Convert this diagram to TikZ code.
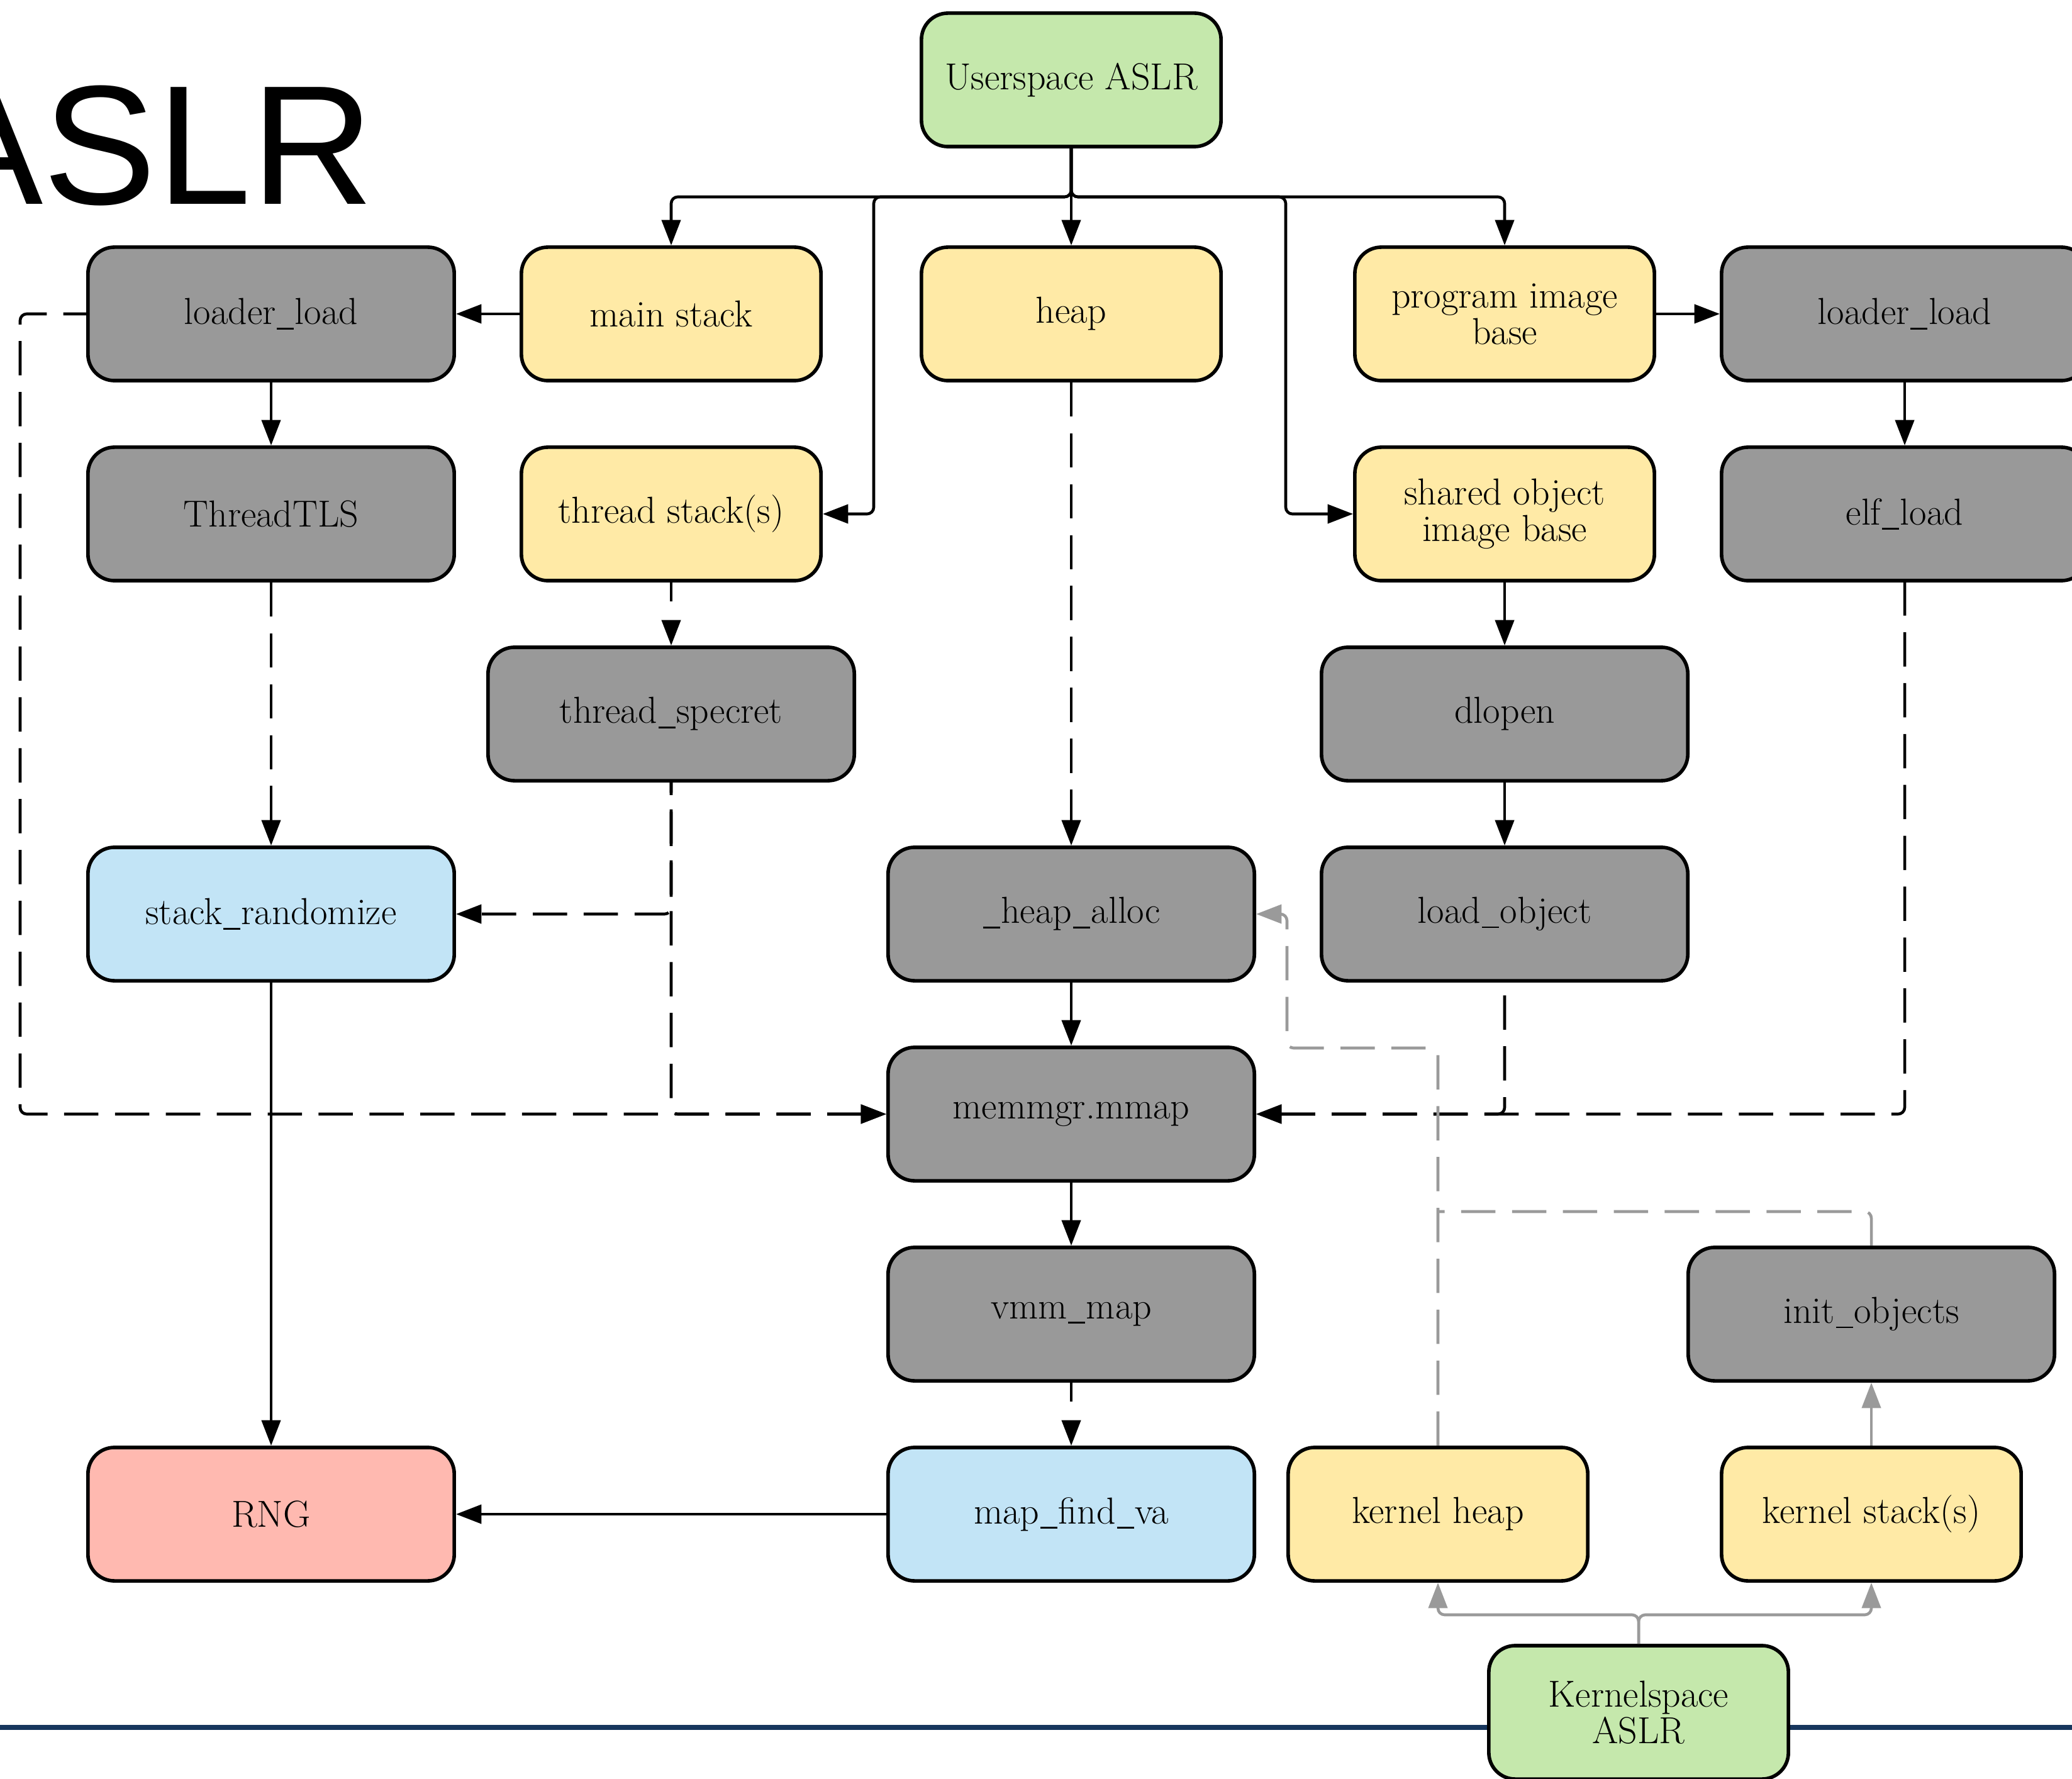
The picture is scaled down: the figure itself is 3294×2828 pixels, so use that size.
\documentclass[tikz,border=0pt]{standalone}
\usepackage{fontspec}
\newfontfamily\titlefont{Liberation Sans}
\usetikzlibrary{arrows.meta}
\definecolor{cgreen}{HTML}{C5E8AC}
\definecolor{cyellow}{HTML}{FFEAA6}
\definecolor{cgray}{HTML}{999999}
\definecolor{cblue}{HTML}{C2E4F6}
\definecolor{cred}{HTML}{FFB9B0}
\definecolor{cnavy}{HTML}{17365D}
\definecolor{cgline}{HTML}{9A9A9A}
\newcommand\us{\kern0.03em\rule[-0.13em]{0.45em}{0.045em}\kern0.03em}
\begin{document}
\begin{tikzpicture}[x=0.01cm,y=-0.01cm,
  box/.style={draw=black, line width=1.6pt, rounded corners=0.42cm, minimum height=2.12cm,
    inner sep=0pt, align=center, font=\fontsize{17}{16.5}\selectfont},
  wide/.style={minimum width=5.82cm},
  narrow/.style={minimum width=4.76cm},
  gbox/.style={box, wide, fill=cgray},
  ybox/.style={box, narrow, fill=cyellow},
  grbox/.style={box, narrow, fill=cgreen},
  bbox/.style={box, wide, fill=cblue},
  rbox/.style={box, wide, fill=cred},
  conn/.style={draw=black, line width=1.3pt, rounded corners=3pt},
  edge/.style={conn, -{Triangle[length=11.5pt,width=8.5pt]}},
  redge/.style={conn, {Triangle[length=11.5pt,width=8.5pt]}-},
  dsh/.style={dash pattern=on 15.5pt off 7.5pt},
  dshort/.style={dash pattern=on 8.5pt off 10.5pt},
  gedge/.style={edge, draw=cgline, -{Triangle[length=11.5pt,width=8.5pt,fill=cgline]}},
]
\useasboundingbox (0,0) rectangle (3294,2828);
\clip (0,0) rectangle (3294,2828);

% title
\node[font=\titlefont\fontsize{76.8}{80}\selectfont, anchor=base east, inner sep=0pt] (title) at (595,325) {ASLR};

% bottom rule
\coordinate (rl) at (0,2746);
\coordinate (rr) at (3294,2746);
\draw[cnavy, line width=2.3pt] (rl) -- (rr);

% nodes
\node[grbox] (ua) at (1703,127) {Userspace ASLR};
\node[gbox] (ll1) at (431,499) {loader\us load};
\node[ybox] (ms) at (1067,499) {main stack};
\node[ybox] (hp) at (1703,499) {heap};
\node[ybox] (pib) at (2392,499) {program image\\base};
\node[gbox] (ll2) at (3028,499) {loader\us load};
\node[gbox] (tls) at (431,817) {ThreadTLS};
\node[ybox] (ts) at (1067,817) {thread stack(s)};
\node[ybox] (so) at (2392,817) {shared object\\image base};
\node[gbox] (elf) at (3028,817) {elf\us load};
\node[gbox] (spec) at (1067,1135) {thread\us specret};
\node[gbox] (dl) at (2392,1135) {dlopen};
\node[bbox] (sr) at (431,1453) {stack\us randomize};
\node[gbox] (ha) at (1703,1453) {\us heap\us alloc};
\node[gbox] (lo) at (2392,1453) {load\us object};
\node[gbox] (mm) at (1703,1771) {memmgr.mmap};
\node[gbox] (vmm) at (1703,2089) {vmm\us map};
\node[gbox] (io) at (2975,2089) {init\us objects};
\node[rbox] (rng) at (431,2407) {RNG};
\node[bbox] (mfv) at (1703,2407) {map\us find\us va};
\node[ybox] (kh) at (2286,2407) {kernel heap};
\node[ybox] (ks) at (2975,2407) {kernel stack(s)};
\node[grbox] (ka) at (2605,2722) {Kernelspace\\ASLR};

% helper coordinates
\coordinate (bus) at (0,313);
\coordinate (jts) at (1389,313);
\coordinate (jso) at (2044,313);
\coordinate (lft) at (32,499);
\coordinate (gy1) at (0,1666);
\coordinate (gx1) at (2046,0);
\coordinate (jk) at (2286,1926);
\coordinate (gy3) at (0,2567);

% userspace fan-out
\draw[edge] (ua.south) -- (ua.south |- bus) -| (ms.north);
\draw[edge] (ua.south) -- (hp.north);
\draw[edge] (ua.south) -- (ua.south |- bus) -| (pib.north);
\draw[edge] (ua.south) -- (ua.south |- bus) -- (jts) |- (ts.east);
\draw[edge] (ua.south) -- (ua.south |- bus) -- (jso) |- (so.west);

% solid edges
\draw[edge] (ms) -- (ll1);
\draw[edge] (ll1) -- (tls);
\draw[edge] (ha) -- (mm);
\draw[edge] (mm) -- (vmm);
\draw[edge] (mfv) -- (rng);
\draw[edge] (sr) -- (rng);
\draw[edge] (pib) -- (ll2);
\draw[edge] (ll2) -- (elf);
\draw[edge] (so) -- (dl);
\draw[edge] (dl) -- (lo);

% dashed edges
\draw[edge,dsh] (tls) -- (sr);
\draw[edge,dshort] (ts) -- (spec);
\draw[edge,dsh,dash phase=9.8pt] (spec.south) |- (sr.east);
\draw[redge,dsh] (mm.west) -| (spec.south);
\draw[redge,dsh] (mm.west) -| (lft) -- (ll1.west);
\draw[edge,dsh] (hp) -- (ha);
\draw[edge,dshort] (vmm) -- (mfv);
\draw[redge,dsh] (mm.east) -| (elf.south);
\draw[redge,dsh] (mm.east) -| (lo.south);

% kernel (gray) edges
\draw[gedge,dsh] (kh.north) |- (gx1 |- gy1) |- (ha.east);
\draw[conn, draw=cgline, dsh] (io.north) |- (jk);
\draw[gedge] (ks) -- (io);
\draw[gedge] (ka.north) -- (ka.north |- gy3) -| (kh.south);
\draw[gedge] (ka.north) -- (ka.north |- gy3) -| (ks.south);
\end{tikzpicture}
\end{document}
